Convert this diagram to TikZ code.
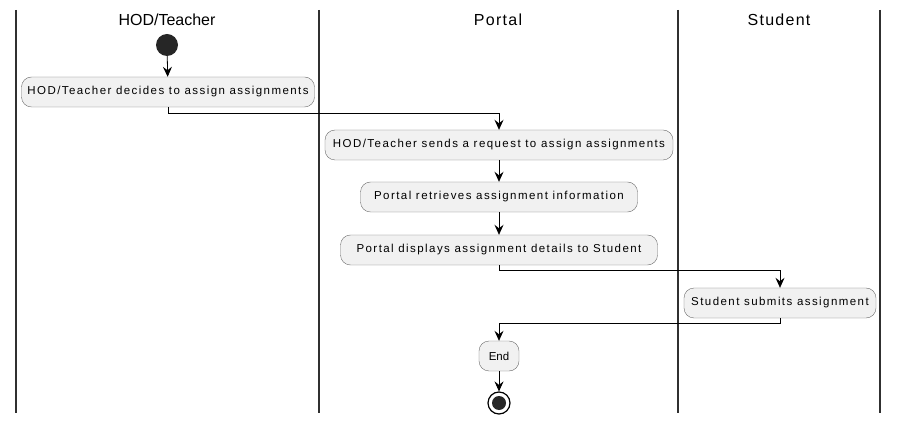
\documentclass[tikz,border=0pt]{standalone}
\usepackage{fontspec}
\setmainfont{Liberation Sans}
\newfontfamily\spacedfont{Liberation Sans}[LetterSpace=12.5]
\newfontfamily\titlefont{Liberation Sans}[LetterSpace=8]
\usepackage{tikz}
\usetikzlibrary{arrows.meta, positioning}
\definecolor{actfill}{HTML}{F1F1F1}
\definecolor{actline}{HTML}{6A6A6A}
\definecolor{laneline}{HTML}{303030}

\begin{document}
\begin{tikzpicture}[x=1pt, y=-1pt,
    act/.style={draw=actline, fill=actfill, rounded corners=10pt, minimum height=30pt,
        inner xsep=5pt, font=\spacedfont\fontsize{11.5}{13}\selectfont},
    flow/.style={-{Stealth[length=10pt, width=9pt, inset=3.5pt]}, line width=0.8pt},
    lane/.style={laneline, line width=1.6pt},
    title/.style={font=\fontsize{16}{19}\selectfont}]

    % Marco de la imagen
    \useasboundingbox (0,0) rectangle (901,427);

    % --- CARRILES ---
    \foreach \x in {16, 319, 678, 880}
        \draw[lane] (\x,10) -- (\x,413);

    \node[title] (tHod) at (167,20) {HOD/Teacher};
    \node[title, font=\titlefont\fontsize{16}{19}\selectfont] (tPortal) at (498,20) {Portal};
    \node[title, font=\titlefont\fontsize{16}{19}\selectfont] (tStudent) at (779,20) {Student};

    % --- ACTIVIDADES ---
    \node[circle, fill=black!85, minimum size=22pt, inner sep=0pt] (start) at (167,45) {};
    \node[act, minimum width=293pt] (decide) at (168,92) {HOD/Teacher decides to assign assignments};
    \node[act, minimum width=348pt] (request) at (499,145) {HOD/Teacher sends a request to assign assignments};
    \node[act, minimum width=277pt] (retrieve) at (499,197) {Portal retrieves assignment information};
    \node[act, minimum width=317pt] (display) at (499,250) {Portal displays assignment details to Student};
    \node[act, minimum width=192pt] (submit) at (780,303) {Student submits assignment};
    \node[act, font=\fontsize{11.5}{13}\selectfont, minimum width=40pt] (endact) at (499,356) {End};
    \node[circle, draw=black, line width=1.2pt, fill=white, minimum size=22pt, inner sep=0pt] (stop) at (499,403) {};
    \fill[black!85] (stop.center) circle (7pt);

    % --- FLUJO ---
    \draw[flow] (start) -- (decide);
    \draw[flow] (decide.south) -- ++(0,6) -| (request.north);
    \draw[flow] (request) -- (retrieve);
    \draw[flow] (retrieve) -- (display);
    \draw[flow] (display.south) -- ++(0,5) -| (submit.north);
    \draw[flow] (submit.south) -- ++(0,5) -| (endact.north);
    \draw[flow] (endact) -- (stop);

\end{tikzpicture}
\end{document}
